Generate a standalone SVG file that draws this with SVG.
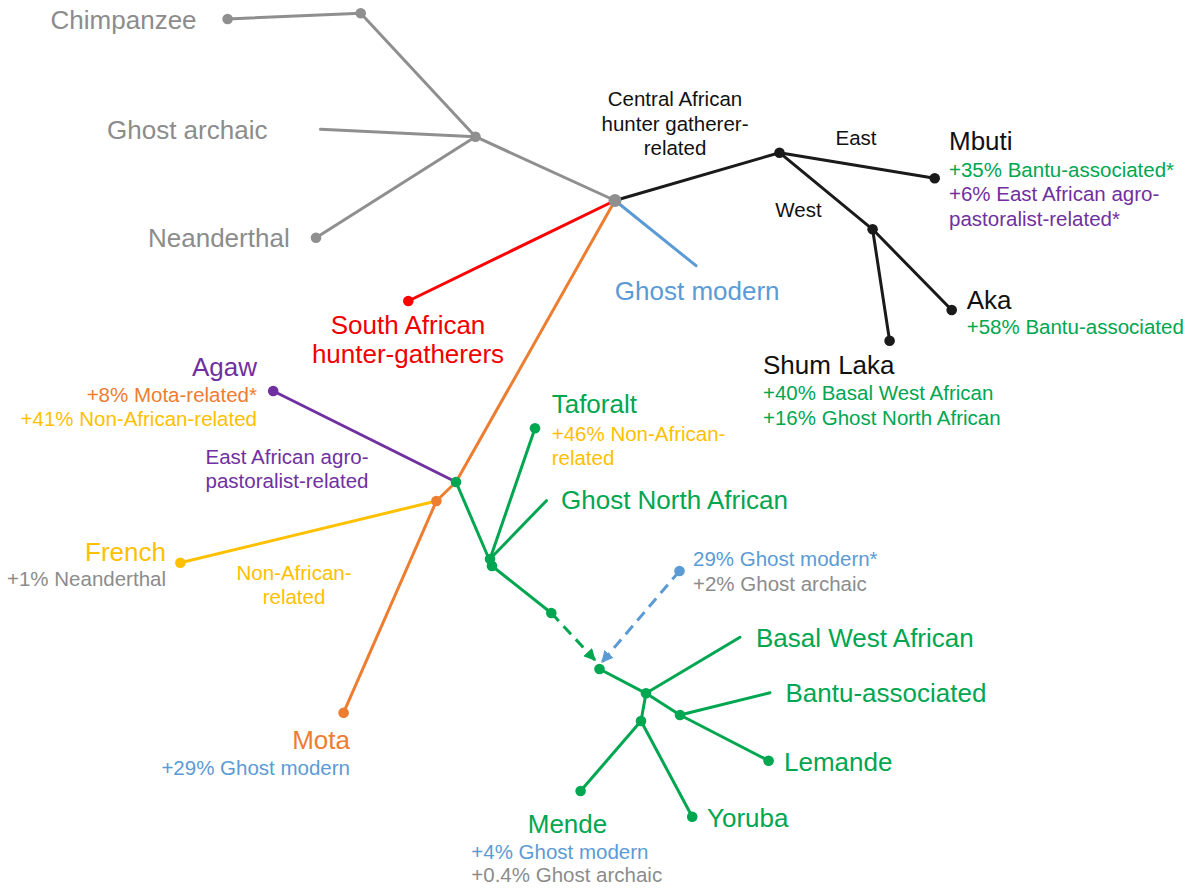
<svg xmlns="http://www.w3.org/2000/svg" width="1200" height="895" viewBox="0 0 1200 895">
<style>
text{font-family:"Liberation Sans",Arial,Helvetica,sans-serif}
.big{font-size:26px}
.sm{font-size:20.5px}
.gray{fill:#8c8c8c}.blk{fill:#111}.grn{fill:#00a650}.blu{fill:#5b9bd5}.pur{fill:#7030a0}
.org{fill:#ed7d31}.yel{fill:#ffc000}.red{fill:#f00000}
.mid{text-anchor:middle}.end{text-anchor:end}
.ln{fill:none;stroke-width:3;stroke-linecap:round;stroke-linejoin:round}
.lg{stroke:#8f8f8f}.lk{stroke:#1a1a1a}.lb{stroke:#5b9bd5}.lr{stroke:#f00}.lo{stroke:#ed7d31}
.ly{stroke:#ffc000}.lp{stroke:#7030a0}.lgr{stroke:#00a650}
.dash{stroke-dasharray:11 7;stroke-linecap:butt}
circle{r:5.3px}
</style>
<defs>
<marker id="ahG" viewBox="0 0 10 10" refX="9" refY="5" markerWidth="4" markerHeight="4" orient="auto" markerUnits="strokeWidth"><path d="M0,0L10,5L0,10z" fill="#00a650"/></marker>
<marker id="ahB" viewBox="0 0 10 10" refX="9" refY="5" markerWidth="4" markerHeight="4" orient="auto" markerUnits="strokeWidth"><path d="M0,0L10,5L0,10z" fill="#5b9bd5"/></marker>
</defs>
<rect width="1200" height="895" fill="#fff"/>
<g id="connectors">
<polyline class="ln lg" points="227.6,19 360.7,13.3 475.5,136.7 615,200.5"/>
<line class="ln lg" x1="320.5" y1="129.3" x2="475.5" y2="136.7"/>
<line class="ln lg" x1="316" y1="237.7" x2="475.5" y2="136.7"/>
<line class="ln lk" x1="615" y1="200.5" x2="779.5" y2="152.7"/>
<line class="ln lk" x1="779.5" y1="152.7" x2="934.7" y2="178.3"/>
<line class="ln lk" x1="779.5" y1="152.7" x2="872.6" y2="229.3"/>
<line class="ln lk" x1="872.6" y1="229.3" x2="951.7" y2="310"/>
<line class="ln lk" x1="872.6" y1="229.3" x2="889.6" y2="340.7"/>
<line class="ln lb" x1="615" y1="200.5" x2="696" y2="265.7"/>
<line class="ln lr" x1="615" y1="200.5" x2="408.3" y2="301"/>
<polyline class="ln lo" points="615,200.5 456,482 436.4,501 343.6,712.7"/>
<line class="ln lp" x1="273.2" y1="391" x2="456" y2="482"/>
<line class="ln ly" x1="180.4" y1="562.7" x2="436.4" y2="501"/>
<line class="ln lgr" x1="456" y1="482" x2="492" y2="566"/>
<line class="ln lgr" x1="535" y1="428.3" x2="490" y2="559"/>
<line class="ln lgr" x1="546.4" y1="500.7" x2="490" y2="559"/>
<line class="ln lgr" x1="492" y1="566" x2="551.3" y2="613"/>
<line class="ln lgr dash" x1="551.3" y1="613" x2="595" y2="660" marker-end="url(#ahG)"/>
<line class="ln lb dash" x1="679.5" y1="571" x2="602" y2="662" marker-end="url(#ahB)"/>
<polyline class="ln lgr" points="599.5,669 646,693.3 680,715 768.6,760.7"/>
<line class="ln lgr" x1="646" y1="693.3" x2="740" y2="637.3"/>
<line class="ln lgr" x1="680" y1="715" x2="770" y2="692.7"/>
<line class="ln lgr" x1="646" y1="693.3" x2="641" y2="721"/>
<line class="ln lgr" x1="641" y1="721" x2="580.6" y2="791"/>
<line class="ln lgr" x1="641" y1="721" x2="692.2" y2="816.7"/>
</g>
<g id="chimpanzee"><circle cx="227.6" cy="19" r="5.3" fill="#8f8f8f"/><text class="big gray" x="50.6" y="29">Chimpanzee</text></g>
<g id="node-chimp-split"><circle cx="360.7" cy="13.3" r="5.3" fill="#8f8f8f"/></g>
<g id="ghost-archaic"><text class="big gray" x="107" y="139">Ghost archaic</text></g>
<g id="node-archaic-split"><circle cx="475.5" cy="136.7" r="5.3" fill="#8f8f8f"/></g>
<g id="neanderthal"><circle cx="316" cy="237.7" r="5.3" fill="#8f8f8f"/><text class="big gray" x="148" y="247">Neanderthal</text></g>
<g id="central-african-hg"><circle cx="779.5" cy="152.7" r="5.3" fill="#1a1a1a"/>
<text class="sm blk mid" x="675" y="106">Central African</text>
<text class="sm blk mid" x="675" y="130.5">hunter gatherer-</text>
<text class="sm blk mid" x="675" y="155">related</text>
<text class="sm blk mid" x="856" y="145">East</text>
<text class="sm blk mid" x="798.5" y="217">West</text></g>
<g id="mbuti"><circle cx="934.7" cy="178.3" r="5.3" fill="#1a1a1a"/>
<text class="big blk" x="949" y="150">Mbuti</text>
<text class="sm grn" x="949" y="176.5">+35% Bantu-associated*</text>
<text class="sm pur" x="949" y="201">+6% East African agro-</text>
<text class="sm pur" x="949" y="225.5">pastoralist-related*</text></g>
<g id="node-west"><circle cx="872.6" cy="229.3" r="5.3" fill="#1a1a1a"/></g>
<g id="aka"><circle cx="951.7" cy="310" r="5.3" fill="#1a1a1a"/>
<text class="big blk" x="966.7" y="309">Aka</text>
<text class="sm grn" x="966.7" y="334">+58% Bantu-associated</text></g>
<g id="shum-laka"><circle cx="889.6" cy="340.7" r="5.3" fill="#1a1a1a"/>
<text class="big blk" x="763" y="374">Shum Laka</text>
<text class="sm grn" x="763" y="400">+40% Basal West African</text>
<text class="sm grn" x="763" y="425">+16% Ghost North African</text></g>
<g id="ghost-modern"><text class="big blu" x="614.8" y="300">Ghost modern</text></g>
<g id="south-african-hg"><circle cx="408.3" cy="301" r="5.3" fill="#f00"/>
<text class="big red mid" x="408" y="334">South African</text>
<text class="big red mid" x="408" y="362.5">hunter-gatherers</text></g>
<g id="agaw"><circle cx="273.2" cy="391" r="5.3" fill="#7030a0"/>
<text class="big pur end" x="257" y="376">Agaw</text>
<text class="sm org end" x="257" y="402">+8% Mota-related*</text>
<text class="sm yel end" x="257" y="426">+41% Non-African-related</text></g>
<g id="east-african-agro"><text class="sm pur mid" x="287" y="464">East African agro-</text>
<text class="sm pur mid" x="287" y="488">pastoralist-related</text></g>
<g id="non-african"><circle cx="436.4" cy="501" r="5.3" fill="#ed7d31"/>
<text class="sm yel mid" x="294" y="580">Non-African-</text>
<text class="sm yel mid" x="294" y="604">related</text></g>
<g id="french"><circle cx="180.4" cy="562.7" r="5.3" fill="#ffc000"/>
<text class="big yel end" x="166" y="561">French</text>
<text class="sm gray end" x="166" y="586">+1% Neanderthal</text></g>
<g id="mota"><circle cx="343.6" cy="712.7" r="5.3" fill="#ed7d31"/>
<text class="big org end" x="350" y="749">Mota</text>
<text class="sm blu end" x="350" y="775">+29% Ghost modern</text></g>
<g id="node-north-african"><circle cx="456" cy="482" r="5.3" fill="#00a650"/><circle cx="490" cy="559" r="5.3" fill="#00a650"/><circle cx="492" cy="566" r="5.3" fill="#00a650"/></g>
<g id="taforalt"><circle cx="535" cy="428.3" r="5.3" fill="#00a650"/>
<text class="big grn" x="551.7" y="413">Taforalt</text>
<text class="sm yel" x="551.7" y="441">+46% Non-African-</text>
<text class="sm yel" x="551.7" y="465">related</text></g>
<g id="ghost-north-african"><text class="big grn" x="561" y="509">Ghost North African</text></g>
<g id="node-west-african"><circle cx="551.3" cy="613" r="5.3" fill="#00a650"/><circle cx="599.5" cy="669" r="5.3" fill="#00a650"/><circle cx="646" cy="693.3" r="5.3" fill="#00a650"/><circle cx="680" cy="715" r="5.3" fill="#00a650"/><circle cx="641" cy="721" r="5.3" fill="#00a650"/></g>
<g id="ghost-modern-admix"><circle cx="679.5" cy="571" r="5.3" fill="#5b9bd5"/>
<text class="sm blu" x="693" y="566">29% Ghost modern*</text>
<text class="sm gray" x="693" y="591">+2% Ghost archaic</text></g>
<g id="basal-west-african"><text class="big grn" x="756" y="647">Basal West African</text></g>
<g id="bantu-associated"><text class="big grn" x="785.5" y="702">Bantu-associated</text></g>
<g id="lemande"><circle cx="768.6" cy="760.7" r="5.3" fill="#00a650"/><text class="big grn" x="784" y="771">Lemande</text></g>
<g id="yoruba"><circle cx="692.2" cy="816.7" r="5.3" fill="#00a650"/><text class="big grn" x="707" y="827">Yoruba</text></g>
<g id="mende"><circle cx="580.6" cy="791" r="5.3" fill="#00a650"/>
<text class="big grn mid" x="567.5" y="833">Mende</text>
<text class="sm blu" x="471.3" y="859">+4% Ghost modern</text>
<text class="sm gray" x="471.3" y="882">+0.4% Ghost archaic</text></g>
<g id="root"><circle cx="615" cy="200.5" r="6.5" style="r:6.5px" fill="#8f8f8f"/></g>
</svg>
